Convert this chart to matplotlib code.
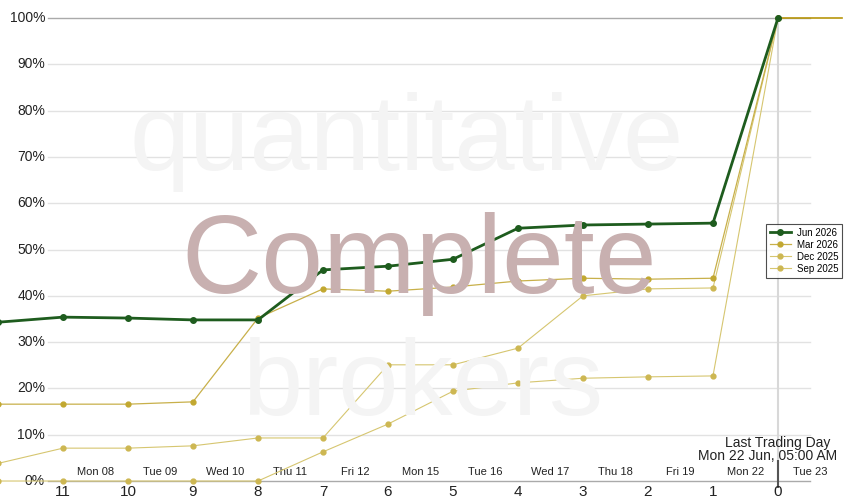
import numpy as np
import matplotlib
matplotlib.use('Agg')
import matplotlib.pyplot as plt

plt.rcParams['font.family'] = ['Liberation Sans', 'DejaVu Sans']

# days to last trading day (12 is just off the left edge)
days = [12, 11, 10, 9, 8, 7, 6, 5, 4, 3, 2, 1, 0]

jun26 = [34.3, 35.4, 35.2, 34.8, 34.8, 45.6, 46.4, 47.9, 54.6, 55.3, 55.5, 55.7, 100]
mar26 = [16.6, 16.6, 16.6, 17.1, 35.2, 41.5, 41.0, 41.9, 43.2, 43.8, 43.6, 43.8, 100]
dec25 = [3.8, 7.1, 7.1, 7.6, 9.3, 9.3, 25.1, 25.1, 28.7, 40.0, 41.5, 41.7, 100]
sep25 = [0, 0, 0, 0, 0, 6.3, 12.3, 19.4, 21.2, 22.2, 22.5, 22.7, 100]

day_pos = [10.5, 9.5, 8.5, 7.5, 6.5, 5.5, 4.5, 3.5, 2.5, 1.5, 0.5, -0.5]
day_labels = ['Mon 08', 'Tue 09', 'Wed 10', 'Thu 11', 'Fri 12', 'Mon 15',
              'Tue 16', 'Wed 17', 'Thu 18', 'Fri 19', 'Mon 22', 'Tue 23']

yticks = [0, 10, 20, 30, 40, 50, 60, 70, 80, 90, 100]

fig = plt.figure(figsize=(8.5, 5), dpi=100)
ax = fig.add_axes([0, 0, 1, 1])
ax.set_xlim(11.969, -1.108)
ax.set_ylim(-4.1, 103.9)
ax.axis('off')

# watermark
fig.text(0.478, 0.66, 'quantitative', fontsize=78, color='#f4f4f4',
         ha='center', va='baseline', zorder=0)
fig.text(0.493, 0.414, 'Complete', fontsize=80, color='#c8b0b0',
         ha='center', va='baseline', zorder=0)
fig.text(0.497, 0.17, 'brokers', fontsize=78, color='#f4f4f4',
         ha='center', va='baseline', zorder=0)

# grid
for v in yticks:
    if v in (0, 100):
        ax.axhline(v, xmin=0.056, xmax=0.953, color='#aaaaaa', lw=1, zorder=1)
    else:
        ax.axhline(v, xmin=0.056, xmax=0.953, color='#e2e2e2', lw=1, zorder=1)
    ax.text(0.053, v, '%d%%' % v, transform=ax.get_yaxis_transform(),
            ha='right', va='center', fontsize=10, color='#222222')

# last trading day marker
ax.vlines(0, 0, 100, color='#d8d8d8', lw=1.5, zorder=1)
ax.vlines(0, -1.4, 4.6, color='#555555', lw=1.5, zorder=2)

# x ticks (days remaining) and weekday labels
for d in days[1:]:
    ax.text(d, -2.4, str(d), ha='center', va='center', fontsize=11, color='#222222')
for p, lab in zip(day_pos, day_labels):
    ax.text(p, 1.95, lab, ha='center', va='center', fontsize=8, color='#222222')

ax.text(0, 8.3, 'Last Trading Day', ha='center', va='center', fontsize=10, color='#222222')
ax.text(0.985, 5.5, 'Mon 22 Jun, 05:00 AM', transform=ax.get_yaxis_transform(),
        ha='right', va='center', fontsize=10, color='#222222')

# series
ax.plot(days, sep25, color='#d6c670', lw=0.8, marker='o', ms=3.5,
        mfc='#cdb752', mec='#cdb752', label='Sep 2025', zorder=3)
ax.plot(days, dec25, color='#d6c670', lw=0.8, marker='o', ms=3.5,
        mfc='#cdb752', mec='#cdb752', label='Dec 2025', zorder=3)
ax.plot(days, mar26, color='#c8b04a', lw=0.9, marker='o', ms=3.5,
        mfc='#c2a830', mec='#c2a830', label='Mar 2026', zorder=3)
ax.plot([0, -0.98], [100, 100], color='#b8960c', lw=1.2, zorder=3)
ax.plot(days, jun26, color='#1e5c1e', lw=2, marker='o', ms=4,
        mfc='#1e5c1e', mec='#1e5c1e', label='Jun 2026', zorder=4)

h, l = ax.get_legend_handles_labels()
leg = fig.legend(h[::-1], l[::-1], loc='upper right', bbox_to_anchor=(0.991, 0.552),
                 fontsize=7, frameon=True, fancybox=False, edgecolor='#222222',
                 handlelength=2.2, borderpad=0.4, labelspacing=0.2, handletextpad=0.6,
                 borderaxespad=0)
leg.get_frame().set_linewidth(0.8)

fig.savefig('out.png', dpi=100)
